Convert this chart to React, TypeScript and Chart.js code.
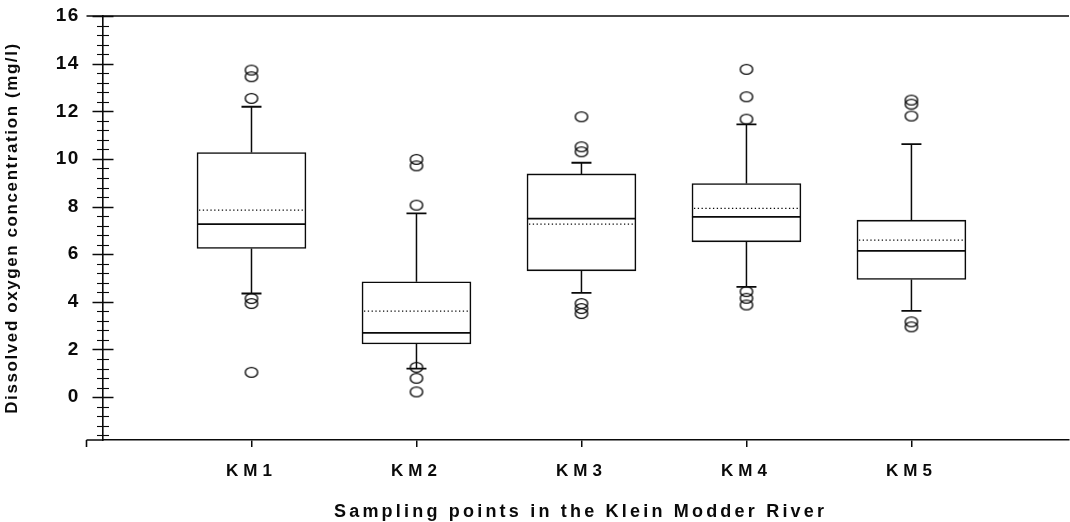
import React, { useEffect, useRef } from 'react';
import { Chart, registerables } from 'chart.js';

Chart.register(...registerables);

// ---------- data ----------
const CATEGORIES = ['KM1', 'KM2', 'KM3', 'KM4', 'KM5'];
const CATEGORY_X = [1, 2, 3, 4, 5];
const Q1 = [6.24, 2.23, 5.3, 6.52, 4.94];
const MEDIAN = [7.26, 2.7, 7.49, 7.57, 6.14];
const MEAN = [7.85, 3.61, 7.26, 7.92, 6.59];
const Q3 = [10.27, 4.84, 9.37, 8.97, 7.43];
const WHISKER_LOW = [4.35, 1.2, 4.38, 4.63, 3.62];
const WHISKER_HIGH = [12.19, 7.71, 9.84, 11.45, 10.62];
const OUTLIERS_KM1 = [13.73, 13.45, 12.54, 4.14, 3.93, 1.04];
const OUTLIERS_KM2 = [9.98, 9.71, 8.06, 1.25, 0.79, 0.22];
const OUTLIERS_KM3 = [11.77, 10.51, 10.3, 3.93, 3.72, 3.51];
const OUTLIERS_KM4 = [13.76, 12.61, 11.67, 4.43, 4.15, 3.87];
const OUTLIERS_KM5 = [12.47, 12.3, 11.8, 3.16, 2.95];
const OUTLIERS = [OUTLIERS_KM1, OUTLIERS_KM2, OUTLIERS_KM3, OUTLIERS_KM4, OUTLIERS_KM5];

const Y_MIN = -1.8;
const Y_MAX = 16;
const Y_TICKS = [0, 2, 4, 6, 8, 10, 12, 14, 16];
const Y_MINOR_STEP = 0.4;
const X_MIN = 0.1;
const X_MAX = 5.955;
const X_FRAME_START = 0;
const X_TITLE_START = 1.5;

const Y_TITLE = 'Dissolved oxygen concentration (mg/l)';
const X_TITLE = 'Sampling points in the Klein Modder River';

// ---------- styling ----------
const FONT = "'Liberation Sans', Arial, Helvetica, sans-serif";
const INK = '#0a0a0a';
const Y_TITLE_LENGTH = 370;
const X_TITLE_LENGTH = 490;
const X_TICK_SPACING = '5px';

function makeMarker(): HTMLCanvasElement {
  const c = document.createElement('canvas');
  c.width = 16;
  c.height = 13;
  const g = c.getContext('2d')!;
  g.strokeStyle = INK;
  g.lineWidth = 1.4;
  g.beginPath();
  g.ellipse(8, 6.5, 6.2, 4.9, 0, 0, Math.PI * 2);
  g.stroke();
  return c;
}

const framePlugin = {
  id: 'frameAndBoxes',
  beforeDraw(chart: any) {
    const ctx = chart.ctx;
    ctx.save();
    ctx.font = `bold 17px ${FONT}`;
    (ctx as any).letterSpacing = '0px';
    const w = ctx.measureText(Y_TITLE).width;
    ctx.restore();
    const sp = Math.max(0, (Y_TITLE_LENGTH - w) / (Y_TITLE.length - 1));
    (ctx as any).letterSpacing = `${sp.toFixed(2)}px`;
  },
  beforeDatasetsDraw(chart: any) {
    (chart.ctx as any).letterSpacing = '0px';
  },
  afterDatasetsDraw(chart: any) {
    const ctx = chart.ctx;
    const xs = chart.scales.x;
    const ys = chart.scales.y;
    const meta = chart.getDatasetMeta(0);
    ctx.save();
    ctx.strokeStyle = INK;
    CATEGORY_X.forEach((cx, i) => {
      const bar = meta.data[i];
      const px = xs.getPixelForValue(cx);
      const half = bar.width / 2;
      const left = px - half;
      const right = px + half;
      ctx.setLineDash([]);
      ctx.lineWidth = 1.5;
      ctx.beginPath();
      ctx.moveTo(px, ys.getPixelForValue(Q3[i]));
      ctx.lineTo(px, ys.getPixelForValue(WHISKER_HIGH[i]));
      ctx.moveTo(px, ys.getPixelForValue(Q1[i]));
      ctx.lineTo(px, ys.getPixelForValue(WHISKER_LOW[i]));
      ctx.stroke();
      ctx.lineWidth = 1.8;
      ctx.beginPath();
      const hi = ys.getPixelForValue(WHISKER_HIGH[i]);
      const lo = ys.getPixelForValue(WHISKER_LOW[i]);
      ctx.moveTo(px - 10, hi);
      ctx.lineTo(px + 10, hi);
      ctx.moveTo(px - 10, lo);
      ctx.lineTo(px + 10, lo);
      ctx.stroke();
      ctx.lineWidth = 1.8;
      ctx.beginPath();
      const my = ys.getPixelForValue(MEDIAN[i]);
      ctx.moveTo(left, my);
      ctx.lineTo(right, my);
      ctx.stroke();
      ctx.lineWidth = 1.2;
      ctx.setLineDash([1.3, 2.5]);
      ctx.beginPath();
      const mn = ys.getPixelForValue(MEAN[i]);
      ctx.moveTo(left + 2, mn);
      ctx.lineTo(right - 2, mn);
      ctx.stroke();
    });
    ctx.restore();
    (ctx as any).letterSpacing = X_TICK_SPACING;
  },
  afterDraw(chart: any) {
    const ctx = chart.ctx;
    const xs = chart.scales.x;
    const ys = chart.scales.y;
    const area = chart.chartArea;
    (ctx as any).letterSpacing = '0px';
    ctx.save();
    ctx.strokeStyle = INK;
    const axisX = area.left;
    const majors = new Set(Y_TICKS.map((v) => v.toFixed(1)));
    for (let k = 0; ; k++) {
      const v = Y_MAX - k * Y_MINOR_STEP;
      if (v < Y_MIN) break;
      const py = Math.round(ys.getPixelForValue(v)) + 0.5;
      const isMajor = majors.has(v.toFixed(1));
      const len = isMajor ? 10.5 : 6;
      ctx.lineWidth = isMajor ? 1.5 : 1.1;
      ctx.beginPath();
      ctx.moveTo(axisX - len, py);
      ctx.lineTo(axisX + len, py);
      ctx.stroke();
    }
    const startX = xs.getPixelForValue(X_FRAME_START);
    ctx.lineWidth = 1.6;
    ctx.beginPath();
    ctx.moveTo(startX, area.top);
    ctx.lineTo(area.right, area.top);
    ctx.moveTo(startX, area.bottom);
    ctx.lineTo(area.left, area.bottom);
    ctx.moveTo(startX, area.bottom);
    ctx.lineTo(startX, area.bottom + 7);
    ctx.stroke();
    ctx.fillStyle = INK;
    ctx.font = `bold 18px ${FONT}`;
    ctx.textAlign = 'left';
    ctx.textBaseline = 'alphabetic';
    const w = ctx.measureText(X_TITLE).width;
    const sp = Math.max(0, (X_TITLE_LENGTH - w) / (X_TITLE.length - 1));
    (ctx as any).letterSpacing = `${sp.toFixed(2)}px`;
    ctx.fillText(X_TITLE, xs.getPixelForValue(X_TITLE_START), 517);
    ctx.restore();
    (ctx as any).letterSpacing = '0px';
  },
};

export default function App() {
  const ref = useRef<HTMLCanvasElement>(null);
  useEffect(() => {
    const canvas = ref.current;
    if (!canvas) return;
    const marker = makeMarker();
    const boxData = CATEGORY_X.map((x, i) => ({ x, y: [Q1[i], Q3[i]] }));
    const outlierData = OUTLIERS.flatMap((arr, i) => arr.map((v) => ({ x: CATEGORY_X[i], y: v })));
    const chart = new Chart(canvas, {
      type: 'scatter',
      data: {
        datasets: [
          {
            type: 'bar',
            label: 'box',
            data: boxData as any,
            barThickness: 109,
            backgroundColor: '#ffffff',
            borderColor: INK,
            borderWidth: 1.6,
            borderSkipped: false,
          } as any,
          {
            type: 'scatter',
            label: 'outliers',
            data: outlierData,
            pointStyle: marker,
            pointRadius: 6,
            showLine: false,
          } as any,
        ],
      },
      options: {
        responsive: false,
        animation: false,
        events: [],
        layout: { autoPadding: false, padding: { left: 0, top: 16, right: 1, bottom: 0 } },
        plugins: { legend: { display: false }, tooltip: { enabled: false }, title: { display: false } },
        scales: {
          x: {
            type: 'linear',
            min: X_MIN,
            max: X_MAX,
            offset: false,
            afterBuildTicks: (s: any) => {
              s.ticks = CATEGORY_X.map((v) => ({ value: v }));
            },
            afterFit: (s: any) => {
              s.height = 82;
              s.paddingLeft = 0;
              s.paddingRight = 0;
            },
            grid: {
              display: true,
              drawOnChartArea: false,
              drawTicks: true,
              tickLength: 7,
              color: INK,
              lineWidth: 1.5,
              offset: false,
              z: 1,
            },
            border: { display: true, color: INK, width: 1.6, z: 1 },
            ticks: {
              z: 1,
              padding: 14,
              color: INK,
              font: { size: 17, family: FONT, weight: 'bold' },
              maxRotation: 0,
              autoSkip: false,
              callback: (v: any) => {
                const i = CATEGORY_X.indexOf(Number(v));
                return i >= 0 ? CATEGORIES[i] : '';
              },
            },
          },
          y: {
            type: 'linear',
            min: Y_MIN,
            max: Y_MAX,
            afterBuildTicks: (s: any) => {
              s.ticks = Y_TICKS.map((v) => ({ value: v }));
            },
            afterFit: (s: any) => {
              s.width = 103;
              s.paddingTop = 0;
              s.paddingBottom = 0;
            },
            grid: { display: false, drawTicks: false, tickLength: 0 },
            border: { display: true, color: INK, width: 1.6 },
            ticks: {
              padding: 23,
              color: INK,
              font: { size: 19, family: FONT, weight: 'bold' },
              callback: (v: any) => String(v),
            },
            title: {
              display: true,
              text: Y_TITLE,
              color: INK,
              font: { size: 17, family: FONT, weight: 'bold' },
              padding: { top: 2, bottom: 0 },
            },
          },
        },
      } as any,
      plugins: [framePlugin as any],
    });
    return () => chart.destroy();
  }, []);
  return (
    <div style={{ position: 'absolute', left: 0, top: 0, width: 1070, height: 522, background: '#fff' }}>
      <canvas ref={ref} width={1070} height={522} style={{ display: 'block', width: 1070, height: 522 }} />
    </div>
  );
}
